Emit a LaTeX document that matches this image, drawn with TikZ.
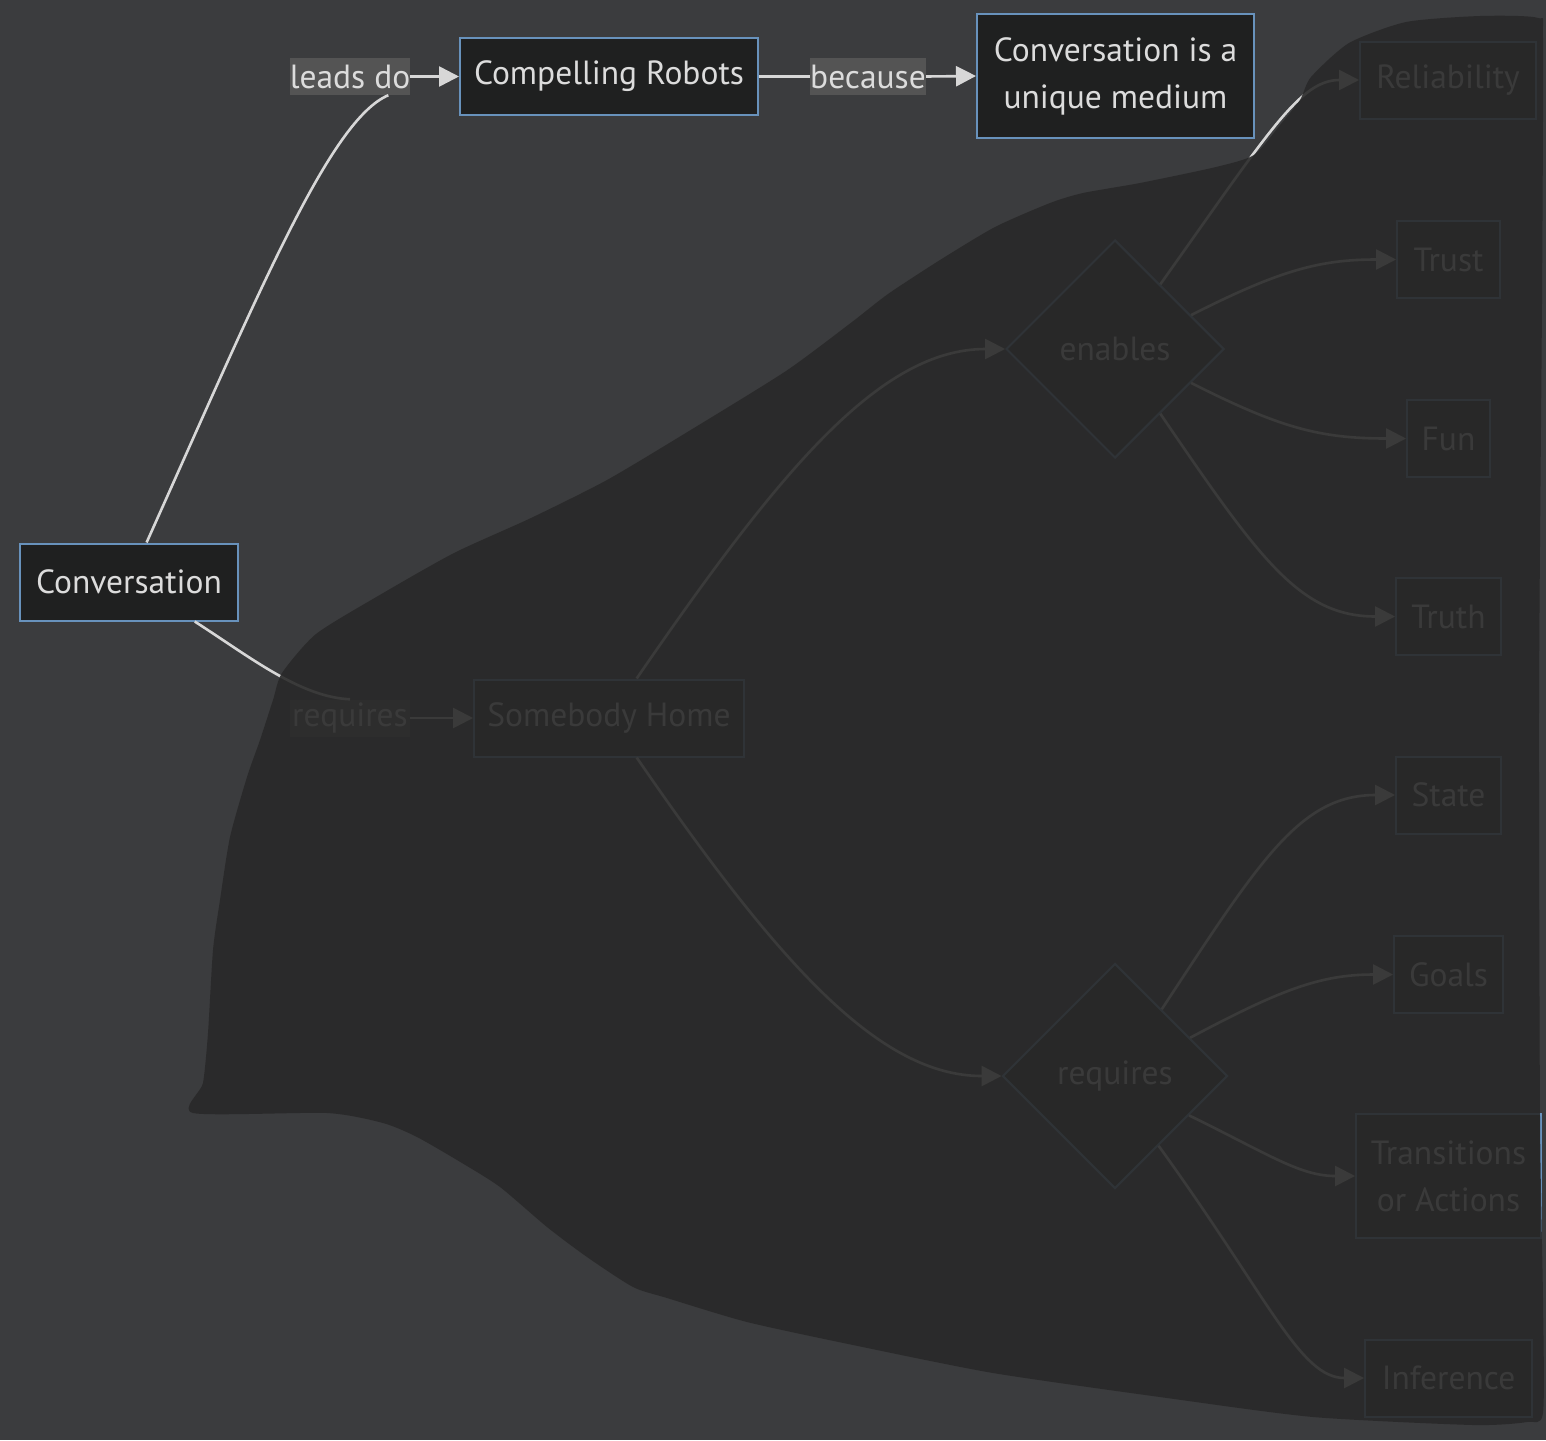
\documentclass[tikz,border=0pt]{standalone}
\usepackage{fontspec}
\setmainfont{PT Sans}
\usetikzlibrary{arrows.meta,shapes.geometric}
\definecolor{CvBack}{RGB}{59,60,62}
\definecolor{CvVeil}{RGB}{41,41,41}
\definecolor{CvFill}{RGB}{31,32,32}
\definecolor{CvBorder}{RGB}{104,146,188}
\definecolor{CvText}{RGB}{220,220,220}
\definecolor{CvLine}{RGB}{215,215,215}
\definecolor{CvLabelBg}{RGB}{84,84,84}
\tikzset{
  cv/box/.style={
    draw=CvBorder,
    line width=2pt,
    fill=CvFill,
    align=center,
    text=CvText,
    minimum height=77pt,
    inner xsep=0pt,
    font=\fontsize{33.5}{47}\selectfont
  },
  cv/choice/.style={
    diamond,
    aspect=1,
    draw=CvBorder,
    line width=2pt,
    fill=CvFill,
    text=CvText,
    inner sep=0pt,
    font=\fontsize{33.5}{47}\selectfont
  },
  cv/label/.style={
    fill=CvLabelBg,
    text=CvText,
    inner xsep=0pt,
    inner ysep=0pt,
    minimum height=37pt,
    font=\fontsize{33.5}{47}\selectfont
  },
  cv/arrow/.style={-{Triangle[length=20pt,width=20pt]}, line width=2.6pt, draw=CvLine},
  cv/line/.style={line width=2.6pt, draw=CvLine},
  cv/veil/.style={fill=CvVeil, fill opacity=0.9}
}
\begin{document}
\begin{tikzpicture}[x=1pt,y=-1pt]
  \fill[CvBack] (0,0) rectangle (1546,1440);
  \node[cv/box,minimum width=218pt] (conv) at (129,582) {Conversation};
  \node[cv/box,minimum width=298pt] (robots) at (609,76.5) {Compelling Robots};
  \node[cv/box,minimum width=277pt,minimum height=124pt] (medium) at (1115.5,76) {Conversation is a\\unique medium};
  \node[cv/box,minimum width=270pt] (home) at (609,718) {Somebody Home};
  \node[cv/choice,minimum width=218pt,minimum height=218pt] (enables) at (1115,349) {enables};
  \node[cv/choice,minimum width=225pt,minimum height=225pt] (needs) at (1115,1076) {requires};
  \node[cv/box,minimum width=176pt] (reliab) at (1448,80) {Reliability};
  \node[cv/box,minimum width=103pt] (trust) at (1448.5,259.5) {Trust};
  \node[cv/box,minimum width=83pt] (fun) at (1448.5,438.5) {Fun};
  \node[cv/box,minimum width=105pt] (truth) at (1448.5,616.5) {Truth};
  \node[cv/box,minimum width=105pt] (state) at (1448.5,795) {State};
  \node[cv/box,minimum width=109pt] (goals) at (1448.5,974.5) {Goals};
  \node[cv/box,minimum width=185pt,minimum height=124pt] (trans) at (1448.5,1176) {Transitions\\or Actions};
  \node[cv/box,minimum width=167pt] (infer) at (1448.5,1378) {Inference};
  \node[cv/label,minimum width=120pt] (leads) at (350,76.5) {leads do};
  \node[cv/label,minimum width=116pt] (because) at (868,76.5) {because};
  \node[cv/label,minimum width=120pt] (reqlbl) at (350,718) {requires};
  \draw[cv/line] (conv.66) .. controls (260,290) and (330,120) .. (leads.-26);
  \draw[cv/arrow] (leads.east) -- (robots.west);
  \draw[cv/line] (robots.east) -- (because.west);
  \draw[cv/arrow] (because.east) -- (medium.west);
  \draw[cv/line] (conv.-31) .. controls (250,657) and (300,697) .. (reqlbl.north);
  \draw[cv/arrow] (reqlbl.east) -- (home.west);
  \draw[cv/arrow] (home.55) .. controls (780,470) and (880,349) .. (enables.west);
  \draw[cv/arrow] (home.-55) .. controls (780,966) and (880,1076) .. (needs.west);
  \draw[cv/arrow] (enables.55) .. controls (1270,130) and (1300,80) .. (reliab.west);
  \draw[cv/arrow] (enables.24) .. controls (1280,270) and (1320,259.5) .. (trust.west);
  \draw[cv/arrow] (enables.-24) .. controls (1280,428) and (1320,438.5) .. (fun.west);
  \draw[cv/arrow] (enables.-55) .. controls (1260,560) and (1300,616.5) .. (truth.west);
  \draw[cv/arrow] (needs.55) .. controls (1260,860) and (1300,795) .. (state.west);
  \draw[cv/arrow] (needs.27) .. controls (1280,990) and (1320,974.5) .. (goals.west);
  \draw[cv/arrow] (needs.-28) .. controls (1270,1155) and (1300,1176) .. (trans.west);
  \draw[cv/arrow] (needs.-58) .. controls (1270,1300) and (1300,1378) .. (infer.west);
  \fill[cv/veil] plot[smooth cycle,tension=0.4] coordinates {
    (193,1113) (203,1083) (208,1033) (213,950) (220,900) (230,837) (247,777)
    (260,740) (273,700) (282,673) (316,634) (378,596) (454,553) (531,518)
    (607,480) (689,431) (786,371) (852,322) (888,294) (940,260) (995,227)
    (1050,203) (1083,193) (1140,183) (1216,167) (1254,155) (1280,125)
    (1300,100) (1311,77) (1349,43) (1406,22) (1480,16) (1538,18) (1543,40)
    (1542,300) (1539,700) (1540,1120) (1543,1300) (1543,1413) (1527,1422)
    (1473,1425) (1313,1417) (1167,1398) (993,1373) (853,1345) (747,1322)
    (667,1298) (633,1287) (587,1257) (547,1227) (500,1187) (462,1163)
    (417,1137) (383,1123) (327,1113)};
\end{tikzpicture}
\end{document}
